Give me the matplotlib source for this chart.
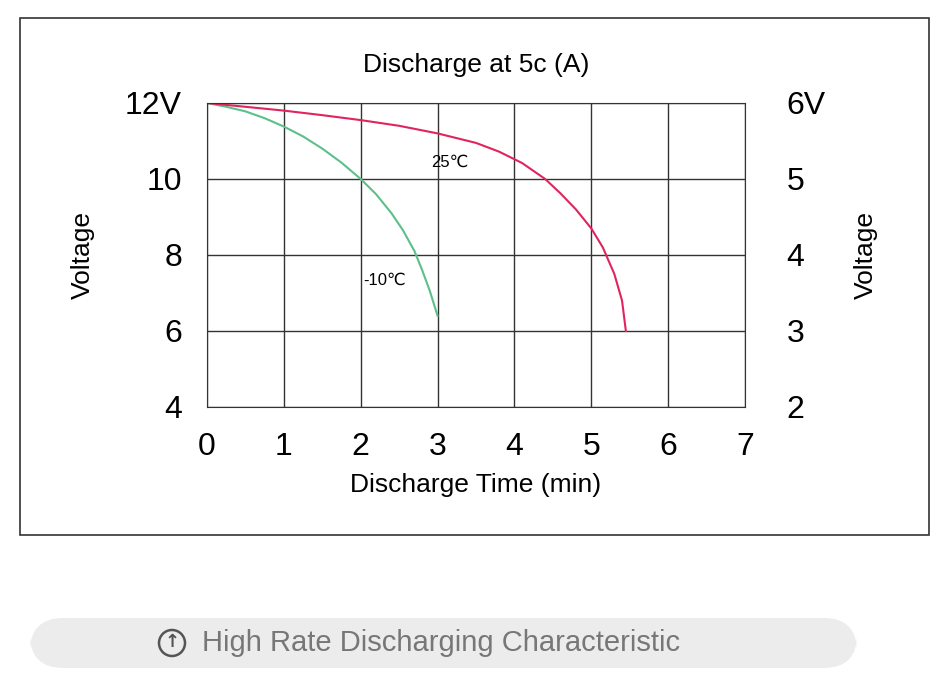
import matplotlib
matplotlib.use("Agg")
import matplotlib.pyplot as plt
from matplotlib.patches import Rectangle, FancyBboxPatch, Ellipse

plt.rcParams["font.family"] = ["Liberation Sans", "DejaVu Sans"]

# curve points (minutes, volts)
cold_t = [0, 0.25, 0.5, 0.75, 1.0, 1.25, 1.5, 1.75, 2.0, 2.2, 2.4, 2.55, 2.7, 2.8, 2.9, 3.0]
cold_v = [12, 11.9, 11.78, 11.6, 11.38, 11.12, 10.8, 10.43, 10.0, 9.6, 9.1, 8.65, 8.1, 7.6, 7.05, 6.4]
warm_t = [0, 0.5, 1.0, 1.5, 2.0, 2.5, 3.0, 3.5, 3.8, 4.1, 4.4, 4.6, 4.8, 5.0, 5.15, 5.3, 5.4, 5.45]
warm_v = [12, 11.9, 11.8, 11.68, 11.55, 11.4, 11.2, 10.95, 10.72, 10.42, 10.0, 9.62, 9.2, 8.7, 8.2, 7.5, 6.8, 6.0]

x_ticks = [0, 1, 2, 3, 4, 5, 6, 7]
left_ticks = [4, 6, 8, 10, 12]
left_labels = ["4", "6", "8", "10", "12V"]
right_ticks = [2, 3, 4, 5, 6]
right_labels = ["2", "3", "4", "5", "6V"]

W, H = 953, 700
fig = plt.figure(figsize=(W / 100, H / 100), dpi=100)

# outer frame and bottom caption bar
fig.patches.append(Rectangle((20 / W, 1 - 535 / H), 909 / W, 517 / H, transform=fig.transFigure,
                             fill=False, ec="#333333", lw=1.2))
fig.patches.append(FancyBboxPatch((30 / W, 1 - 668 / H), 827 / W, 50 / H, transform=fig.transFigure,
                                  boxstyle="round,pad=0,rounding_size=0.035", fc="#ececec", ec="none",
                                  mutation_aspect=W / H))
fig.patches.append(Ellipse((172 / W, 1 - 643 / H), 26 / W, 26 / H, transform=fig.transFigure,
                           fill=False, ec="#555555", lw=1.8))
fig.text(172 / W, 1 - 642 / H, "↑", ha="center", va="center", fontsize=13, color="#555555",
         fontweight="bold", family="DejaVu Sans")
fig.text(202 / W, 1 - 643 / H, "High Rate Discharging Characteristic", ha="left", va="center",
         fontsize=21, color="#777777")

ax = fig.add_axes([207 / W, 1 - 407 / H, 538 / W, 304 / H])
ax.plot(cold_t, cold_v, color="#5cc08a", lw=1.5)
ax.plot(warm_t, warm_v, color="#e0245e", lw=1.5)
ax.text(3.16, 10.45, "25℃", fontsize=12, ha="center", va="center")
ax.text(2.31, 7.34, "-10℃", fontsize=12, ha="center", va="center")

ax.set_xlim(0, 7)
ax.set_ylim(4, 12)
ax.set_xticks(x_ticks)
ax.set_yticks(left_ticks)
ax.set_yticklabels(left_labels)
ax.grid(True, color="#333333", lw=1.0)
for s in ax.spines.values():
    s.set_color("#333333")
ax.tick_params(axis="y", length=0, labelsize=23, pad=18)
ax.tick_params(axis="x", length=0, labelsize=23, pad=18)
ax.set_xlabel("Discharge Time (min)", fontsize=19, labelpad=8)
ax.set_ylabel("Voltage", fontsize=19, labelpad=22)
ax.set_title("Discharge at 5c (A)", fontsize=19, pad=22)

ax2 = ax.twinx()
ax2.set_ylim(2, 6)
ax2.set_yticks(right_ticks)
ax2.set_yticklabels(right_labels)
ax2.tick_params(length=0, labelsize=23, pad=30)
ax2.set_ylabel("Voltage", fontsize=19, labelpad=20)
for s in ax2.spines.values():
    s.set_visible(False)

fig.savefig("out.png", dpi=100, facecolor="white")
